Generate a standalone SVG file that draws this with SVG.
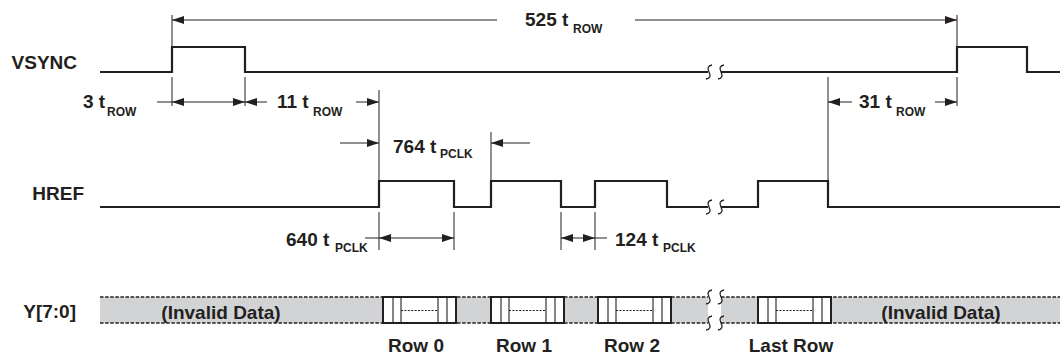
<svg xmlns="http://www.w3.org/2000/svg" width="1060" height="360" viewBox="0 0 1060 360">
<defs>
<style>
text{font-family:"Liberation Sans",Arial,sans-serif;font-weight:bold;fill:#231f20}
.lbl{font-size:19px}
.sub{font-size:12px}
.wave{fill:none;stroke:#231f20;stroke-width:2.2;stroke-linejoin:miter}
.dim{fill:none;stroke:#231f20;stroke-width:1}
.brk{fill:none;stroke:#231f20;stroke-width:1.3}
.edge{fill:none;stroke:#231f20;stroke-width:1.6;stroke-dasharray:3.5 1.6}
.cell{fill:#fff;stroke:#231f20;stroke-width:2}
.in{stroke:#231f20;stroke-width:1.1}
.mid{stroke:#231f20;stroke-width:1;stroke-dasharray:2 1.4}
</style>
<marker id="ah" viewBox="0 0 12 8" refX="12" refY="4" markerWidth="12" markerHeight="8" markerUnits="userSpaceOnUse" orient="auto-start-reverse">
<path d="M0,0 L12,4 L0,8 z" fill="#231f20"/>
</marker>
<g id="cellshape">
<rect class="cell" x="0" y="297" width="73" height="26"/>
<line class="in" x1="10" y1="297" x2="10" y2="323"/>
<line class="in" x1="18" y1="297" x2="18" y2="323"/>
<line class="in" x1="55" y1="297" x2="55" y2="323"/>
<line class="in" x1="64" y1="297" x2="64" y2="323"/>
<line class="mid" x1="18" y1="310.5" x2="55" y2="310.5"/>
</g>
<path id="sbrk" class="brk" d="M3,-7 Q-3,-6 0,0 Q3,6 -3,7"/>
</defs>
<rect width="1060" height="360" fill="#fff"/>

<g id="VSYNC">
<text class="lbl" x="77" y="69" text-anchor="end">VSYNC</text>
<polyline class="wave" points="100,72 172,72 172,47 245,47 245,72 708,72"/>
<polyline class="wave" points="721,72 957,72 957,47 1027,47 1027,72 1060,72"/>
<use href="#sbrk" x="709" y="72"/>
<use href="#sbrk" x="721" y="72"/>
</g>

<g id="HREF">
<text class="lbl" x="84" y="200" text-anchor="end">HREF</text>
<polyline class="wave" points="100,207 379,207 379,181 454,181 454,207 491,207 491,181 561,181 561,207 595,207 595,181 667,181 667,207 708,207"/>
<polyline class="wave" points="721,207 758,207 758,181 828,181 828,207 1060,207"/>
<use href="#sbrk" x="709" y="207"/>
<use href="#sbrk" x="721" y="207"/>
</g>

<g id="Y70">
<text class="lbl" x="76" y="318" text-anchor="end">Y[7:0]</text>
<rect x="100" y="297" width="960" height="26" fill="#d1d3d4"/>
<rect x="708" y="295" width="13" height="30" fill="#fff"/>
<line class="edge" x1="100" y1="297" x2="708" y2="297"/>
<line class="edge" x1="100" y1="323" x2="708" y2="323"/>
<line class="edge" x1="721" y1="297" x2="1060" y2="297"/>
<line class="edge" x1="721" y1="323" x2="1060" y2="323"/>
<use href="#sbrk" x="709" y="297"/>
<use href="#sbrk" x="721" y="297"/>
<use href="#sbrk" x="709" y="323"/>
<use href="#sbrk" x="721" y="323"/>
<text class="lbl" x="221" y="319" text-anchor="middle">(Invalid Data)</text>
<text class="lbl" x="941" y="319" text-anchor="middle">(Invalid Data)</text>
</g>

<g id="row0">
<use href="#cellshape" x="383"/>
<text class="lbl" x="416" y="352" text-anchor="middle">Row 0</text>
</g>
<g id="row1">
<use href="#cellshape" x="491"/>
<text class="lbl" x="524" y="352" text-anchor="middle">Row 1</text>
</g>
<g id="row2">
<use href="#cellshape" x="598"/>
<text class="lbl" x="632" y="352" text-anchor="middle">Row 2</text>
</g>
<g id="lastrow">
<use href="#cellshape" x="758"/>
<text class="lbl" x="791" y="352" text-anchor="middle">Last Row</text>
</g>

<g id="connectors">
<line class="dim" x1="172" y1="15" x2="172" y2="47"/>
<line class="dim" x1="172" y1="77" x2="172" y2="106"/>
<line class="dim" x1="245" y1="77" x2="245" y2="106"/>
<line class="dim" x1="957" y1="15" x2="957" y2="47"/>
<line class="dim" x1="957" y1="77" x2="957" y2="106"/>
<line class="dim" x1="379" y1="90" x2="379" y2="181"/>
<line class="dim" x1="379" y1="212" x2="379" y2="250"/>
<line class="dim" x1="454" y1="212" x2="454" y2="250"/>
<line class="dim" x1="491" y1="132" x2="491" y2="181"/>
<line class="dim" x1="561" y1="212" x2="561" y2="250"/>
<line class="dim" x1="595" y1="212" x2="595" y2="250"/>
<line class="dim" x1="828" y1="77" x2="828" y2="181"/>

<line class="dim" x1="497" y1="20" x2="172" y2="20" marker-end="url(#ah)"/>
<line class="dim" x1="635" y1="20" x2="957" y2="20" marker-end="url(#ah)"/>

<line class="dim" x1="157" y1="102" x2="172" y2="102"/>
<line class="dim" x1="172" y1="102" x2="245" y2="102" marker-start="url(#ah)" marker-end="url(#ah)"/>
<line class="dim" x1="267" y1="102" x2="245" y2="102" marker-end="url(#ah)"/>
<line class="dim" x1="356" y1="102" x2="379" y2="102" marker-end="url(#ah)"/>
<line class="dim" x1="852" y1="102" x2="828" y2="102" marker-end="url(#ah)"/>
<line class="dim" x1="935" y1="102" x2="957" y2="102" marker-end="url(#ah)"/>

<line class="dim" x1="340" y1="143" x2="379" y2="143" marker-end="url(#ah)"/>
<line class="dim" x1="530" y1="143" x2="491" y2="143" marker-end="url(#ah)"/>

<line class="dim" x1="365" y1="238" x2="379" y2="238"/>
<line class="dim" x1="379" y1="238" x2="454" y2="238" marker-start="url(#ah)" marker-end="url(#ah)"/>
<line class="dim" x1="561" y1="238" x2="595" y2="238" marker-start="url(#ah)" marker-end="url(#ah)"/>
<line class="dim" x1="595" y1="238" x2="607" y2="238"/>
</g>

<g id="labels">
<text class="lbl" x="525" y="26">525 t<tspan class="sub" x="573" y="33">ROW</tspan></text>
<text class="lbl" x="83" y="108">3 t<tspan class="sub" x="107" y="116">ROW</tspan></text>
<text class="lbl" x="277" y="108">11 t<tspan class="sub" x="313" y="116">ROW</tspan></text>
<text class="lbl" x="859" y="108">31 t<tspan class="sub" x="896" y="116">ROW</tspan></text>
<text class="lbl" x="393" y="153">764 t<tspan class="sub" x="440" y="158">PCLK</tspan></text>
<text class="lbl" x="286" y="246">640 t<tspan class="sub" x="335" y="252">PCLK</tspan></text>
<text class="lbl" x="615" y="246">124 t<tspan class="sub" x="663" y="252">PCLK</tspan></text>
</g>
</svg>
